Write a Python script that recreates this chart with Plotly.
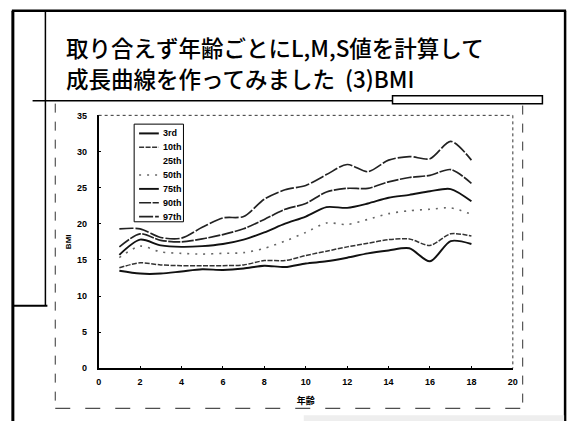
import plotly.graph_objects as go

# Age in years and BMI percentile curves computed from L, M, S values
ages = [1, 2, 3, 4, 5, 6, 7, 8, 9, 10, 11, 12, 13, 14, 15, 16, 17, 18]

p3 = [13.5, 13.1, 13.1, 13.4, 13.7, 13.6, 13.8, 14.2, 14.0, 14.5, 14.8, 15.3, 15.9, 16.3, 16.6, 14.8, 17.6, 17.2]
p10 = [13.9, 14.6, 14.3, 14.2, 14.2, 14.2, 14.3, 14.9, 14.9, 15.6, 16.2, 16.8, 17.3, 17.8, 17.9, 17.0, 18.6, 18.3]
p50 = [15.3, 16.9, 16.1, 15.9, 15.8, 15.9, 16.0, 16.6, 17.6, 18.8, 20.1, 19.9, 20.6, 21.4, 21.8, 22.0, 22.2, 21.3]
p75 = [15.7, 17.8, 17.0, 16.8, 16.9, 17.2, 17.8, 18.8, 20.0, 21.0, 22.3, 22.2, 22.8, 23.6, 24.0, 24.5, 24.8, 23.1]
p90 = [16.8, 18.6, 17.7, 17.5, 17.9, 18.5, 19.3, 20.6, 22.0, 22.8, 24.4, 24.9, 24.9, 25.8, 26.4, 26.7, 27.5, 25.6]
p97 = [19.3, 19.3, 18.1, 18.0, 19.5, 20.8, 21.0, 23.4, 24.7, 25.3, 26.8, 28.2, 27.2, 28.8, 29.3, 29.0, 31.4, 28.8]

x_ticks = [0, 2, 4, 6, 8, 10, 12, 14, 16, 18, 20]
y_ticks = [0, 5, 10, 15, 20, 25, 30, 35]

title_lines = ["取り合えず年齢ごとにL,M,S値を計算して", "成長曲線を作ってみました  (3)BMI"]

W, H = 577, 426

def px(x):
    return x / W

def py(y):
    return 1 - y / H

# name, values, colour, width, dash
series = [
    ("3rd", p3, "#111111", 2.0, "solid"),
    ("10th", p10, "#333333", 1.5, "5px,1.5px"),
    ("25th", None, "rgba(255,255,255,0)", 1.5, "solid"),
    ("50th", p50, "#666666", 1.6, "2px,6px"),
    ("75th", p75, "#111111", 1.9, "solid"),
    ("90th", p90, "#222222", 1.7, "12px,1.5px"),
    ("97th", p97, "#222222", 1.7, "14px,2px"),
]

fig = go.Figure()
for name, vals, color, width, dash in series:
    if vals is None:
        continue
    fig.add_trace(go.Scatter(
        x=ages, y=vals, mode="lines", name=name,
        line=dict(color=color, width=width, dash=dash, shape="spline", smoothing=0.8),
    ))

tick_font = dict(family="Liberation Sans", size=9, color="black", weight="bold")

fig.update_layout(
    width=W, height=H,
    margin=dict(l=0, r=0, t=0, b=0),
    paper_bgcolor="white", plot_bgcolor="white",
    showlegend=False,
    xaxis=dict(
        domain=[px(97), px(517)], range=[0, 20], tickvals=x_ticks,
        ticks="inside", ticklen=3, tickcolor="black",
        showline=True, linecolor="black", linewidth=1.5,
        showgrid=False, zeroline=False, tickfont=tick_font,
        ticklabelstandoff=4,
        title=dict(text="年齢", font=dict(family="Noto Sans CJK JP", size=9, color="black", weight="bold"), standoff=12),
    ),
    yaxis=dict(
        domain=[1 - 372 / H, 1 - 113 / H], range=[0, 35], tickvals=y_ticks,
        ticks="inside", ticklen=3, tickcolor="black",
        showline=True, linecolor="black", linewidth=1.5,
        showgrid=False, zeroline=False, tickfont=tick_font,
        ticklabelstandoff=8,
        title=dict(text="BMI", font=dict(family="Liberation Sans", size=8, color="black", weight="bold"), standoff=4),
    ),
)

shapes = []
# dotted top and right edges of the plot frame
shapes.append(dict(type="line", xref="paper", yref="paper", x0=px(97), x1=px(517), y0=py(113), y1=py(113),
                   line=dict(color="#333333", width=1, dash="dot")))
shapes.append(dict(type="line", xref="paper", yref="paper", x0=px(517), x1=px(517), y0=py(113), y1=py(372),
                   line=dict(color="#333333", width=1, dash="dot")))
# dashed outer frame around the chart object
shapes.append(dict(type="line", xref="paper", yref="paper", x0=px(53), x1=px(53), y0=py(101), y1=py(413),
                   line=dict(color="#333333", width=1, dash="dash")))
shapes.append(dict(type="line", xref="paper", yref="paper", x0=px(53), x1=px(527), y0=py(413), y1=py(413),
                   line=dict(color="#222222", width=1, dash="longdash")))
shapes.append(dict(type="line", xref="paper", yref="paper", x0=px(527), x1=px(527), y0=py(103), y1=py(413),
                   line=dict(color="#333333", width=1, dash="dash")))
# slide border lines
shapes.append(dict(type="line", xref="paper", yref="paper", x0=px(9), x1=px(571), y0=py(6), y1=py(6),
                   line=dict(color="black", width=2.5)))
shapes.append(dict(type="line", xref="paper", yref="paper", x0=px(10), x1=px(10), y0=py(6), y1=py(426),
                   line=dict(color="black", width=3)))
shapes.append(dict(type="line", xref="paper", yref="paper", x0=px(570), x1=px(570), y0=py(6), y1=py(426),
                   line=dict(color="black", width=2.5)))
shapes.append(dict(type="line", xref="paper", yref="paper", x0=px(43), x1=px(43), y0=py(6), y1=py(308),
                   line=dict(color="black", width=1.5)))
shapes.append(dict(type="line", xref="paper", yref="paper", x0=px(10), x1=px(45), y0=py(308), y1=py(308),
                   line=dict(color="black", width=2)))
# title underline with the bar on the right
shapes.append(dict(type="line", xref="paper", yref="paper", x0=px(30), x1=px(395), y0=py(98), y1=py(98),
                   line=dict(color="black", width=1.5)))
shapes.append(dict(type="rect", xref="paper", yref="paper", x0=px(395), x1=px(547), y0=py(93), y1=py(101),
                   line=dict(color="black", width=1.5), fillcolor="white"))
# faint strip at the bottom right
shapes.append(dict(type="rect", xref="paper", yref="paper", x0=px(305), x1=px(569), y0=py(420), y1=py(426),
                   line=dict(width=0), fillcolor="#eeeeee"))

# legend box with line samples
leg_left, leg_right, leg_top, leg_bottom = 133, 183, 122, 222
shapes.append(dict(type="rect", xref="paper", yref="paper", x0=px(leg_left), x1=px(leg_right),
                   y0=py(leg_top), y1=py(leg_bottom), line=dict(color="black", width=1), fillcolor="white",
                   layer="above"))

annotations = []
row_gap = 14.2
for i, (name, vals, color, width, dash) in enumerate(series):
    yy = 131.5 + i * row_gap
    if vals is not None:
        shapes.append(dict(type="line", xref="paper", yref="paper", x0=px(138), x1=px(158),
                           y0=py(yy), y1=py(yy), layer="above",
                           line=dict(color=color, width=width, dash=dash)))
    annotations.append(dict(
        text=name, xref="paper", yref="paper", x=px(160), y=py(yy),
        xanchor="left", yanchor="middle", showarrow=False,
        font=dict(family="Liberation Sans", size=9, color="black", weight="bold"),
    ))

fig.update_layout(shapes=shapes)

# two-line slide title
for i, line in enumerate(title_lines):
    annotations.append(dict(
        text=line, xref="paper", yref="paper", x=px(62), y=py(43 + 32 * i),
        xanchor="left", yanchor="middle", showarrow=False,
        font=dict(family="Noto Sans CJK JP", size=22.5, color="black", weight=500),
    ))
fig.update_layout(annotations=annotations)

fig.write_html("out.html")
